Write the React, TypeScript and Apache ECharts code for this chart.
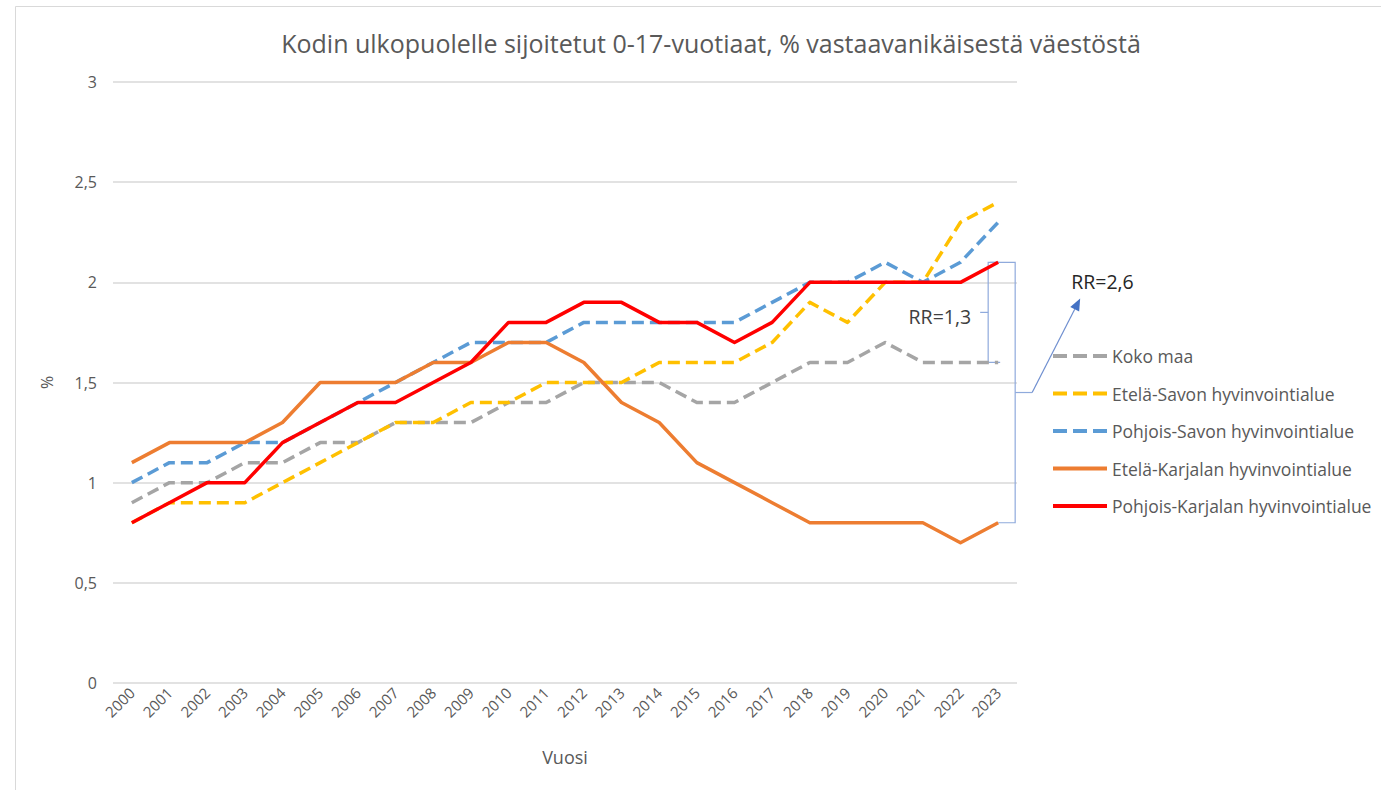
import React, { useEffect, useRef } from "react";
import * as echarts from "echarts";

const years = [
  "2000", "2001", "2002", "2003", "2004", "2005", "2006", "2007", "2008", "2009", "2010", "2011",
  "2012", "2013", "2014", "2015", "2016", "2017", "2018", "2019", "2020", "2021", "2022", "2023",
];
const kokoMaa = [0.9, 1.0, 1.0, 1.1, 1.1, 1.2, 1.2, 1.3, 1.3, 1.3, 1.4, 1.4, 1.5, 1.5, 1.5, 1.4, 1.4, 1.5, 1.6, 1.6, 1.7, 1.6, 1.6, 1.6];
const etelaSavo = [0.8, 0.9, 0.9, 0.9, 1.0, 1.1, 1.2, 1.3, 1.3, 1.4, 1.4, 1.5, 1.5, 1.5, 1.6, 1.6, 1.6, 1.7, 1.9, 1.8, 2.0, 2.0, 2.3, 2.4];
const pohjoisSavo = [1.0, 1.1, 1.1, 1.2, 1.2, 1.3, 1.4, 1.5, 1.6, 1.7, 1.7, 1.7, 1.8, 1.8, 1.8, 1.8, 1.8, 1.9, 2.0, 2.0, 2.1, 2.0, 2.1, 2.3];
const etelaKarjala = [1.1, 1.2, 1.2, 1.2, 1.3, 1.5, 1.5, 1.5, 1.6, 1.6, 1.7, 1.7, 1.6, 1.4, 1.3, 1.1, 1.0, 0.9, 0.8, 0.8, 0.8, 0.8, 0.7, 0.8];
const pohjoisKarjala = [0.8, 0.9, 1.0, 1.0, 1.2, 1.3, 1.4, 1.4, 1.5, 1.6, 1.8, 1.8, 1.9, 1.9, 1.8, 1.8, 1.7, 1.8, 2.0, 2.0, 2.0, 2.0, 2.0, 2.1];

const seriesNames = [
  "Koko maa",
  "Etelä-Savon hyvinvointialue",
  "Pohjois-Savon hyvinvointialue",
  "Etelä-Karjalan hyvinvointialue",
  "Pohjois-Karjalan hyvinvointialue",
];
const seriesColors = ["#a5a5a5", "#ffc000", "#5b9bd5", "#ed7d31", "#ff0000"];
const seriesDashed = [true, true, true, false, false];
const seriesData = [kokoMaa, etelaSavo, pohjoisSavo, etelaKarjala, pohjoisKarjala];

const title = "Kodin ulkopuolelle sijoitetut 0-17-vuotiaat, % vastaavanikäisestä väestöstä";
const rrSmall = "RR=1,3";
const rrBig = "RR=2,6";

const FONT = "'Open Sans', 'Noto Sans', sans-serif";
const TXT = "#595959";

export default function App() {
  const ref = useRef<HTMLDivElement>(null);
  useEffect(() => {
    if (!ref.current) return;
    const chart = echarts.init(ref.current, null, { renderer: "svg" });
    chart.setOption({
      animation: false,
      backgroundColor: "#ffffff",
      textStyle: { fontFamily: FONT },
      title: {
        text: title,
        left: 706,
        textAlign: "center",
        top: 25,
        textStyle: { fontFamily: FONT, fontSize: 25, fontWeight: "normal", color: TXT },
      },
      grid: { left: 113, right: 364, top: 82, bottom: 107, containLabel: false },
      legend: {
        orient: "vertical",
        left: 1046,
        top: 342,
        itemWidth: 54,
        itemHeight: 18,
        itemGap: 19.5,
        itemStyle: { opacity: 0 },
        lineStyle: { width: 4 },
        textStyle: { fontFamily: FONT, fontSize: 17.5, color: TXT },
        data: seriesNames.map((n, i) => ({
          name: n,
          lineStyle: seriesDashed[i]
            ? { width: 4, type: [14, 6], color: seriesColors[i] }
            : { width: 4, type: "solid", color: seriesColors[i] },
        })),
      },
      xAxis: {
        type: "category",
        data: years,
        boundaryGap: true,
        axisLine: { show: false },
        axisTick: { show: false },
        axisLabel: { rotate: 45, color: TXT, fontSize: 15, fontFamily: FONT, margin: 7, interval: 0 },
        name: "Vuosi",
        nameLocation: "middle",
        nameGap: 65,
        nameTextStyle: { color: TXT, fontSize: 18, fontFamily: FONT },
      },
      yAxis: {
        type: "value",
        min: 0,
        max: 3,
        interval: 0.5,
        axisLine: { show: false },
        axisTick: { show: false },
        splitLine: { lineStyle: { color: "#d9d9d9", width: 1.5 } },
        axisLabel: {
          color: TXT,
          fontSize: 16,
          fontFamily: FONT,
          margin: 16,
          formatter: (v: number) => String(v).replace(".", ","),
        },
        name: "%",
        nameLocation: "middle",
        nameRotate: 90,
        nameGap: 58,
        nameTextStyle: { color: TXT, fontSize: 16, fontFamily: FONT },
      },
      series: seriesNames.map((n, i) => ({
        name: n,
        type: "line",
        data: seriesData[i],
        symbol: "none",
        color: seriesColors[i],
        lineStyle: {
          color: seriesColors[i],
          width: 3.5,
          type: seriesDashed[i] ? [12, 6] : "solid",
          cap: "butt",
          join: "round",
        },
      })),
    });

    const last = years.length - 1;
    const px = (v: number) => chart.convertToPixel({ gridIndex: 0 }, [years[last], v]) as number[];
    const [x23, yTop] = px(pohjoisKarjala[last]);
    const yGrey = px(kokoMaa[last])[1];
    const yOrange = px(etelaKarjala[last])[1];
    const bc = "#8faadc";
    const xs = x23 - 10;
    const xb = x23 + 17;
    const yMidS = (yTop + yGrey) / 2;
    const yMidB = (yTop + yOrange) / 2;
    const tipX = xb + 65;
    const tipY = yMidB - 94;
    const sx = xb + 17;
    const dx = tipX - sx;
    const dy = tipY - yMidB;
    const L = Math.sqrt(dx * dx + dy * dy);
    const ux = dx / L;
    const uy = dy / L;
    const bx = tipX - 12 * ux;
    const by = tipY - 12 * uy;
    const ac = "#4472c4";

    chart.setOption({
      graphic: [
        {
          type: "rect",
          silent: true,
          shape: { x: 15.5, y: 6.5, width: 2000, height: 2000 },
          style: { fill: "none", stroke: "#d9d9d9", lineWidth: 1 },
        },
        {
          type: "polyline",
          silent: true,
          shape: { points: [[x23 + 1, yTop], [xs, yTop], [xs, yGrey], [x23 + 2, yGrey]] },
          style: { stroke: bc, lineWidth: 1.2, fill: "none" },
        },
        {
          type: "line",
          silent: true,
          shape: { x1: xs - 8, y1: yMidS, x2: xs, y2: yMidS },
          style: { stroke: bc, lineWidth: 1.2 },
        },
        {
          type: "polyline",
          silent: true,
          shape: { points: [[xs + 2, yTop], [xb, yTop], [xb, yOrange], [x23, yOrange]] },
          style: { stroke: bc, lineWidth: 1.2, fill: "none" },
        },
        {
          type: "line",
          silent: true,
          shape: { x1: xb, y1: yMidB, x2: sx, y2: yMidB },
          style: { stroke: bc, lineWidth: 1.2 },
        },
        {
          type: "line",
          silent: true,
          shape: { x1: sx, y1: yMidB, x2: bx, y2: by },
          style: { stroke: "#6f8fd0", lineWidth: 1.2 },
        },
        {
          type: "polygon",
          silent: true,
          shape: {
            points: [
              [tipX, tipY],
              [bx - 5 * uy, by + 5 * ux],
              [bx + 5 * uy, by - 5 * ux],
            ],
          },
          style: { fill: ac },
        },
        {
          type: "text",
          silent: true,
          x: xs - 17,
          y: yMidS + 4,
          style: {
            text: rrSmall,
            fontFamily: FONT,
            fontSize: 19.5,
            fill: "#404040",
            align: "right",
            verticalAlign: "middle",
          },
        },
        {
          type: "text",
          silent: true,
          x: tipX - 9,
          y: tipY - 17,
          style: {
            text: rrBig,
            fontFamily: FONT,
            fontSize: 19.5,
            fill: "#262626",
            align: "left",
            verticalAlign: "middle",
          },
        },
      ],
    });

    return () => chart.dispose();
  }, []);
  return (
    <div
      ref={ref}
      style={{ position: "absolute", left: 0, top: 0, width: 1381, height: 790 }}
    />
  );
}
